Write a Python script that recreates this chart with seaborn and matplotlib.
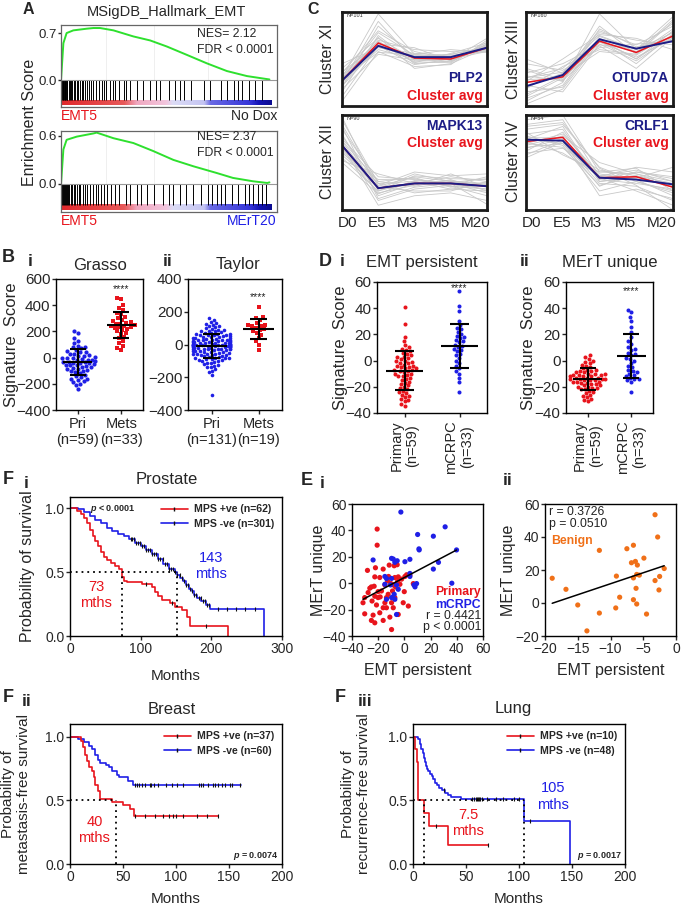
import numpy as np
import pandas as pd
import matplotlib
matplotlib.use("Agg")
import matplotlib.pyplot as plt
import seaborn as sns
from matplotlib.lines import Line2D
from matplotlib.colors import LinearSegmentedColormap

# ------------------------------------------------------------------ data
# A: GSEA running enrichment score (rank fraction, ES)
gsea1_x = [0, 0.011, 0.026, 0.057, 0.119, 0.150, 0.181, 0.243, 0.335, 0.413, 0.490, 0.583, 0.675, 0.768, 0.861, 0.954, 0.965]
gsea1_y = [0, 0.55, 0.70, 0.74, 0.765, 0.775, 0.775, 0.74, 0.65, 0.59, 0.50, 0.375, 0.25, 0.135, 0.06, 0.015, 0.01]
gsea2_x = [0, 0.011, 0.026, 0.073, 0.151, 0.165, 0.243, 0.335, 0.427, 0.520, 0.613, 0.720, 0.796, 0.889, 0.955, 0.965]
gsea2_y = [0, 0.43, 0.55, 0.59, 0.63, 0.64, 0.57, 0.51, 0.41, 0.30, 0.22, 0.137, 0.075, 0.033, 0.012, 0.02]
gsea1_hits = [0.002, 0.005, 0.008, 0.011, 0.014, 0.017, 0.02, 0.023, 0.026, 0.03, 0.035, 0.04, 0.046, 0.052,
              0.058, 0.065, 0.072, 0.08, 0.088, 0.095, 0.10, 0.11, 0.12, 0.13, 0.14, 0.15, 0.16, 0.175, 0.19,
              0.2, 0.21, 0.225, 0.24, 0.25, 0.27, 0.29, 0.3, 0.32, 0.35, 0.38, 0.41, 0.44, 0.46, 0.5, 0.53,
              0.55, 0.57, 0.6, 0.66, 0.69, 0.74, 0.77, 0.8, 0.82, 0.84, 0.87, 0.9, 0.93]
gsea2_hits = [0.002, 0.005, 0.009, 0.013, 0.017, 0.021, 0.026, 0.031, 0.037, 0.044, 0.05, 0.058, 0.066, 0.075,
              0.083, 0.09, 0.1, 0.11, 0.12, 0.135, 0.15, 0.16, 0.17, 0.185, 0.2, 0.215, 0.23, 0.25, 0.27,
              0.3, 0.32, 0.35, 0.37, 0.4, 0.43, 0.47, 0.5, 0.52, 0.55, 0.58, 0.61, 0.65, 0.68, 0.7, 0.72,
              0.74, 0.76, 0.79, 0.82, 0.85, 0.87, 0.89, 0.91, 0.93, 0.95]

# C: cluster time-course profiles (D0, E5, M3, M5, M20), normalised 0-1
timepoints = ["D0", "E5", "M3", "M5", "M20"]
c11_gray = [[0.30, 0.98, 0.55, 0.52, 0.60], [0.25, 0.90, 0.48, 0.50, 0.65], [0.20, 0.85, 0.52, 0.55, 0.62],
            [0.35, 0.80, 0.58, 0.50, 0.58], [0.15, 0.75, 0.45, 0.48, 0.66], [0.40, 0.72, 0.50, 0.55, 0.63],
            [0.28, 0.70, 0.60, 0.58, 0.60], [0.22, 0.68, 0.47, 0.46, 0.68], [0.32, 0.65, 0.53, 0.52, 0.62],
            [0.10, 0.64, 0.44, 0.50, 0.64], [0.45, 0.62, 0.56, 0.54, 0.58], [0.26, 0.60, 0.50, 0.47, 0.66],
            [0.05, 0.58, 0.42, 0.44, 0.70], [0.30, 0.57, 0.55, 0.60, 0.57], [0.18, 0.55, 0.49, 0.51, 0.61],
            [0.36, 0.66, 0.62, 0.48, 0.64], [0.24, 0.73, 0.40, 0.45, 0.62], [0.29, 0.78, 0.54, 0.53, 0.59],
            [0.33, 0.69, 0.46, 0.56, 0.67], [0.21, 0.63, 0.51, 0.49, 0.72]]
c11_avg = [0.27, 0.67, 0.51, 0.50, 0.62]
c11_gene = [0.27, 0.64, 0.52, 0.52, 0.62]
c13_gray = [[0.05, 0.25, 0.98, 0.60, 0.95], [0.10, 0.30, 0.85, 0.55, 0.90], [0.20, 0.35, 0.80, 0.65, 0.85],
            [0.30, 0.40, 0.75, 0.60, 0.78], [0.40, 0.28, 0.70, 0.50, 0.80], [0.35, 0.45, 0.65, 0.62, 0.70],
            [0.15, 0.20, 0.72, 0.58, 0.75], [0.25, 0.33, 0.68, 0.52, 0.72], [0.45, 0.38, 0.62, 0.66, 0.68],
            [0.22, 0.15, 0.66, 0.48, 0.74], [0.28, 0.30, 0.78, 0.70, 0.65], [0.18, 0.42, 0.60, 0.55, 0.82],
            [0.50, 0.35, 0.70, 0.45, 0.77], [0.08, 0.22, 0.74, 0.60, 0.88], [0.32, 0.27, 0.64, 0.40, 0.73],
            [0.26, 0.50, 0.76, 0.72, 0.60], [0.12, 0.32, 0.58, 0.54, 0.79], [0.38, 0.26, 0.82, 0.63, 0.70],
            [0.02, 0.18, 0.69, 0.57, 0.92], [0.30, 0.36, 0.71, 0.50, 0.76]]
c13_avg = [0.25, 0.31, 0.69, 0.57, 0.745]
c13_gene = [0.21, 0.33, 0.71, 0.61, 0.69]
c12_gray = [[0.98, 0.20, 0.30, 0.25, 0.22], [0.90, 0.25, 0.35, 0.30, 0.28], [0.85, 0.30, 0.25, 0.32, 0.20],
            [0.80, 0.15, 0.28, 0.35, 0.30], [0.75, 0.35, 0.32, 0.28, 0.18], [0.72, 0.22, 0.38, 0.30, 0.25],
            [0.70, 0.10, 0.22, 0.26, 0.35], [0.65, 0.28, 0.30, 0.22, 0.27], [0.62, 0.18, 0.26, 0.38, 0.24],
            [0.60, 0.32, 0.33, 0.25, 0.15], [0.58, 0.24, 0.20, 0.20, 0.30], [0.55, 0.20, 0.36, 0.33, 0.32],
            [0.52, 0.38, 0.28, 0.27, 0.22], [0.68, 0.05, 0.15, 0.18, 0.10], [0.78, 0.26, 0.40, 0.36, 0.38],
            [0.88, 0.12, 0.24, 0.28, 0.06], [0.64, 0.22, 0.27, 0.31, 0.26], [0.73, 0.30, 0.34, 0.24, 0.29],
            [0.95, 0.28, 0.18, 0.22, 0.20], [0.50, 0.17, 0.31, 0.29, 0.33]]
c12_avg = [0.68, 0.23, 0.28, 0.28, 0.25]
c12_gene = [0.68, 0.23, 0.28, 0.28, 0.25]
c14_gray = [[0.95, 1.00, 0.40, 0.38, 0.30], [0.90, 0.95, 0.35, 0.45, 0.40], [0.85, 0.90, 0.45, 0.30, 0.20],
            [0.80, 0.85, 0.30, 0.35, 0.25], [0.75, 0.70, 0.25, 0.40, 0.35], [0.70, 0.80, 0.38, 0.32, 0.15],
            [0.65, 0.75, 0.32, 0.28, 0.22], [0.60, 0.65, 0.42, 0.36, 0.28], [0.55, 0.72, 0.28, 0.25, 0.10],
            [0.72, 0.60, 0.36, 0.42, 0.30], [0.78, 0.68, 0.20, 0.30, 0.18], [0.68, 0.78, 0.50, 0.38, 0.26],
            [0.62, 0.82, 0.34, 0.20, 0.05], [0.74, 0.88, 0.30, 0.34, 0.45], [0.82, 0.58, 0.40, 0.44, 0.20],
            [0.58, 0.74, 0.15, 0.22, 0.12], [0.76, 0.76, 0.36, 0.33, 0.27], [0.66, 0.70, 0.33, 0.40, 0.33],
            [0.88, 0.92, 0.44, 0.26, 0.00], [0.70, 0.66, 0.26, 0.36, 0.24]]
c14_avg = [0.72, 0.765, 0.34, 0.35, 0.24]
c14_gene = [0.74, 0.73, 0.34, 0.32, 0.27]

# B: signature scores
grasso_pri = [200, 190, 150, 130, 110, 90, 80, 80, 70, 60, 50, 45, 40, 30, 25, 20, 15, 10, 5, 0,
              0, -5, -10, -15, -20, -20, -25, -30, -30, -35, -40, -40, -45, -50, -55, -60, -60, -65, -70, -75,
              -80, -85, -90, -95, -100, -105, -110, -120, -130, -140, -150, -160, -170, -180, -190, -200, -210,
              -160, -240]
grasso_mets = [455, 445, 400, 380, 360, 340, 330, 310, 300, 290, 280, 270, 265, 260, 255, 250, 245, 240, 235,
               230, 225, 220, 210, 200, 190, 180, 160, 150, 130, 110, 90, 70, 60]
taylor_pri = [160, 150, 140, 130, 125, 120, 115, 110, 105, 100, 95, 90, 90, 85, 80, 80, 75, 70, 70, 65,
              65, 60, 60, 55, 55, 50, 50, 45, 45, 40, 40, 40, 35, 35, 30, 30, 30, 25, 25, 20,
              20, 20, 15, 15, 15, 10, 10, 10, 5, 5, 5, 0, 0, 0, 0, -5, -5, -5, -10, -10,
              -10, -10, -15, -15, -15, -20, -20, -20, -25, -25, -25, -30, -30, -30, -35, -35, -40, -40, -40, -45,
              -45, -50, -50, -55, -55, -60, -60, -65, -65, -70, -70, -75, -75, -80, -80, -85, -85, -90, -90, -95,
              -95, -100, -100, -105, -110, -115, -120, -125, -130, -135, -140, -150, -160, -170, -185, -310, 12, -2,
              8, -8, 3, -3, 28, -28, 48, -48, 62, -62, 18, -18, -12]
taylor_mets = [230, 165, 160, 150, 130, 120, 120, 115, 110, 100, 95, 90, 80, 70, 60, 40, 20, 0, -35]

# D: signature scores
emtp_primary = [41, 28, 18, 15, 12, 10, 9, 8, 7, 6, 5, 4, 3, 3, 2, 1, 0, 0, -1, -2,
                -2, -3, -4, -4, -5, -5, -6, -7, -7, -8, -8, -9, -10, -10, -11, -12, -12, -13, -14, -15,
                -16, -17, -18, -19, -20, -21, -22, -23, -24, -25, -26, -27, -28, -29, -30, -31, -33, -35, -6]
emtp_mcrpc = [53, 42, 38, 30, 27, 25, 24, 22, 20, 19, 18, 17, 16, 15, 14, 12, 11, 10, 9, 8,
              7, 5, 4, 2, 0, -2, -4, -6, -8, -10, -13, -16, -24]
mert_primary = [4, 3, 1, 0, -1, -2, -3, -4, -5, -6, -7, -7, -8, -8, -9, -9, -10, -10, -10, -11,
                -11, -11, -12, -12, -12, -13, -13, -13, -14, -14, -14, -15, -15, -15, -16, -16, -16, -17, -17, -18,
                -18, -19, -19, -20, -20, -21, -21, -22, -22, -23, -24, -25, -26, -27, -28, -29, -30, -31, -14]
mert_mcrpc = [39, 37, 33, 30, 26, 22, 18, 15, 13, 10, 9, 8, 6, 5, 4, 2, 1, 0, -2, -4,
              -5, -7, -8, -9, -10, -11, -12, -13, -14, -14, -15, -16, -24]

# E: EMT persistent vs MErT unique
ei_pri_x = [-20.8, -20.8, -28.2, -22.1, -16.2, -11.6, -7.8, -5.5, -22.6, -18.8, -12.1, -7.3, -4.7, 0.4, 1.7,
            -26.4, -25.2, -23.1, -14.9, -10.3, -8.5, -6.8, -3.4, -0.1, -9.1, -12.4, -20.1, -22.6, -18.5, -13.7,
            -31.6, -24.7, -21.3, -14.9, -7.3, -0.9, -9.8, -30.3, -23.9, -18.8, -11.1, -25.2, -22.6, -16.2, -4.7,
            3.0, -9.8, 6.8, -17.5, -27.7, -20.1, -12.9, -5.2, -2.1, 4.2, -30.3, -13.7, -8.5, -16.2]
ei_pri_y = [41.0, 28.8, 9.7, 11.7, 10.7, 13.7, 13.2, 14.0, 4.8, 4.3, 5.1, 4.3, 4.8, 5.1, 6.4,
            -3.8, -2.8, -2.3, -1.3, -0.3, -1.3, -2.8, -0.8, -6.4, -5.9, -8.4, -10.9, -9.9, -10.4, -10.9,
            -14.8, -13.5, -16.5, -14.8, -10.9, -14.8, -14.8, -23.2, -24.2, -22.4, -25.7, -28.2, -30.0, -28.2, -23.7,
            -17.3, -35.1, -0.3, -5.9, -7.1, -6.4, 1.8, 1.3, 3.1, 6.1, -10.9, -18.6, -18.6, -18.6]
ei_mc_x = [-2.7, 10.1, 22.1, 31.1, 11.1, 11.3, 39.8, -23.9, -9.8, -8.5, -5.5, 0.4, 4.2, -7.3, 26.0, 22.1, 36.2,
           4.2, 4.2, -14.9, -13.7, -9.8, -14.9, -10.6, -6.0, 7.3, 9.3, 8.1, -4.7, -7.8, -9.8, -13.7, -7.3, -6.0]
ei_mc_y = [53.9, 36.9, 35.6, 42.7, 26.0, 25.2, 25.2, 17.6, 18.8, 18.3, 17.0, 16.3, 18.1, 15.8, 15.8, 10.7, 0.0,
           7.4, 5.1, 5.1, 3.6, 3.6, -0.8, -1.3, -1.3, -1.3, -0.3, -2.8, -4.6, -8.4, -10.9, -12.2, -12.2, -23.7]
eii_x = [-18.9, -16.8, -15.0, -13.6, -11.7, -11.7, -9.2, -9.1, -8.6, -7.5, -6.8, -6.5, -6.5, -6.5, -6.2, -6.1,
         -6.0, -5.9, -5.6, -6.0, -4.9, -4.5, -3.2, -3.2, -2.8, -2.5, -2.6, -1.8]
eii_y = [15.0, 8.3, -1.2, -16.9, 31.9, -6.1, -3.0, 16.3, 3.5, 32.9, 24.4, 35.0, 15.2, 2.0, 25.2, 8.9,
         -0.6, 23.0, 16.9, 17.3, 27.2, -6.7, 53.5, 13.6, 40.0, 16.1, 7.9, 20.9]

# F: Kaplan-Meier curves (months, survival) and censor times
pro_pos_t = [0, 10, 16, 20, 24, 28, 32, 36, 40, 44, 48, 52, 58, 64, 70, 73, 76, 80, 102, 116,
             120, 124, 130, 142, 148, 158, 165, 170, 224]
pro_pos_s = [1.0, 0.98, 0.95, 0.92, 0.88, 0.83, 0.78, 0.74, 0.70, 0.66, 0.62, 0.59, 0.57, 0.55, 0.52, 0.46,
             0.43, 0.42, 0.41, 0.38, 0.34, 0.31, 0.28, 0.26, 0.23, 0.20, 0.15, 0.08, 0.0]
pro_pos_c = [107, 144, 192]
pro_neg_t = [0, 12, 20, 28, 36, 44, 52, 60, 68, 76, 84, 92, 100, 108, 116, 124, 132, 140, 148, 152,
             156, 160, 164, 168, 172, 176, 180, 186, 192, 198, 274]
pro_neg_s = [1.0, 0.99, 0.97, 0.94, 0.91, 0.88, 0.84, 0.82, 0.80, 0.78, 0.76, 0.73, 0.70, 0.67, 0.64, 0.60,
             0.56, 0.52, 0.50, 0.48, 0.45, 0.43, 0.40, 0.37, 0.35, 0.32, 0.30, 0.27, 0.24, 0.21, 0.0]
pro_neg_c = [86, 88, 90, 93, 96, 99, 102, 105, 108, 110, 113, 116, 119, 122, 125, 128, 131, 134, 137, 140,
             143, 146, 149, 152, 155, 158, 161, 164, 167, 170, 173, 176, 179, 182, 185, 188, 191, 194, 197,
             210, 222, 235, 248, 262]
br_pos_t = [0, 10, 12, 14, 16, 18, 21, 23, 24, 26, 28, 40, 50, 57, 60, 140]
br_pos_s = [1.0, 0.97, 0.92, 0.86, 0.81, 0.76, 0.73, 0.68, 0.62, 0.57, 0.51, 0.49, 0.46, 0.43, 0.38, 0.38]
br_pos_c = [61, 70.5, 80, 88, 93, 97, 100, 107, 120, 129, 140]
br_neg_t = [0, 8, 13, 18, 21, 24, 26, 28, 34, 37, 40, 44, 46, 55, 59, 161]
br_neg_s = [1.0, 0.98, 0.96, 0.93, 0.90, 0.86, 0.82, 0.79, 0.78, 0.76, 0.73, 0.70, 0.68, 0.65, 0.62, 0.62]
br_neg_c = [61, 63, 65, 67.6, 70.5, 75, 76.6, 79, 83.4, 91, 96, 100.5, 107, 121.6, 124, 125.6, 130.4, 135,
            136.8, 140, 143, 146, 151, 153, 160.5]
lu_pos_t = [0, 2, 3.5, 4.5, 5, 10, 15, 33, 71]
lu_pos_s = [1.0, 0.9, 0.8, 0.6, 0.5, 0.4, 0.3, 0.15, 0.15]
lu_pos_c = [22, 71]
lu_neg_t = [0, 5, 7, 8, 9, 10, 11, 12, 13, 14, 16, 18, 19, 21, 23, 25, 27, 30, 33, 36, 45, 105, 148]
lu_neg_s = [1.0, 0.98, 0.94, 0.9, 0.87, 0.83, 0.8, 0.77, 0.75, 0.73, 0.71, 0.69, 0.67, 0.64, 0.62, 0.6,
            0.58, 0.56, 0.54, 0.53, 0.51, 0.34, 0.0]
lu_neg_c = [29, 56, 58, 59, 60, 61, 62, 63, 65, 70, 78, 85, 95, 100, 110]

# ------------------------------------------------------------------ style
sns.set_theme(style="ticks")
plt.rcParams["font.family"] = ["Liberation Sans", "DejaVu Sans"]
plt.rcParams["mathtext.fontset"] = "custom"
plt.rcParams["mathtext.it"] = "Liberation Sans:italic:bold"
plt.rcParams["mathtext.rm"] = "Liberation Sans:bold"
plt.rcParams["axes.linewidth"] = 1.0
plt.rcParams["xtick.major.width"] = 1.0
plt.rcParams["ytick.major.width"] = 1.0
plt.rcParams["xtick.major.size"] = 3
plt.rcParams["ytick.major.size"] = 3

RED = "#e8141c"
BLUE = "#1f1fe6"
NAVY = "#1c1c86"
GREEN = "#2ee02e"
ORANGE = "#f07018"

W, H = 685, 908
fig = plt.figure(figsize=(W / 100, H / 100), dpi=100)
RECTS = {}


def ax_px(x0, y0, x1, y1):
    ax = fig.add_axes([x0 / W, 1 - y1 / H, (x1 - x0) / W, (y1 - y0) / H])
    RECTS[id(ax)] = (x0, y0, x1, y1)
    return ax


def txt(x, y, s, **kw):
    kw.setdefault("ha", "center")
    kw.setdefault("va", "center")
    fig.text(x / W, 1 - y / H, s, **kw)


def ylab(ax, s, xpx, **kw):
    x0, y0, x1, y1 = RECTS[id(ax)]
    ax.set_ylabel(s, **kw)
    ax.yaxis.label.set_verticalalignment("center")
    ax.yaxis.set_label_coords((xpx - x0) / (x1 - x0), 0.5)


def xlab(ax, s, ypx, **kw):
    x0, y0, x1, y1 = RECTS[id(ax)]
    ax.set_xlabel(s, **kw)
    ax.xaxis.label.set_verticalalignment("center")
    ax.xaxis.set_label_coords(0.5, (y1 - ypx) / (y1 - y0))


def box(ax, lw=1.0, color="black"):
    for sp in ax.spines.values():
        sp.set_visible(True)
        sp.set_linewidth(lw)
        sp.set_color(color)


# ------------------------------------------------------------------ A: GSEA
ES_CMAP = LinearSegmentedColormap.from_list(
    "es", [(0, "#e0282c"), (0.3, "#e85a5a"), (0.36, "#f0a8c0"), (0.5, "#f2c6de"), (0.53, "#dcdcf6"),
           (0.68, "#c4c4f2"), (0.71, "#6a6ae4"), (0.9, "#3434d8"), (0.94, "#1414b4"), (1, "#0c0c90")])


def gsea_panel(rect, cx, cy, hits, ytick, ylim, hit_lo, bar_lo):
    ax = ax_px(*rect)
    for gx in [0.21, 0.43, 0.68]:
        ax.plot([gx, gx], [0, ylim[1]], color="#ececec", lw=0.6, zorder=0)
    ax.vlines(hits, hit_lo, 0, color="black", lw=0.7)
    ax.imshow(np.linspace(0, 1, 256)[None, :], extent=[0, 0.975, bar_lo, hit_lo], aspect="auto",
              cmap=ES_CMAP, zorder=1)
    sns.lineplot(x=cx, y=cy, ax=ax, color=GREEN, lw=1.4, sort=False)
    ax.axhline(0, color="#999999", lw=0.8)
    ax.set_xlim(0, 1)
    ax.set_ylim(*ylim)
    ax.set_xticks([])
    ax.set_yticks([0, ytick])
    ax.set_yticklabels(["0.0", str(ytick)])
    ax.tick_params(axis="y", length=2, pad=1, labelsize=9.5)
    box(ax, 0.9, "#666666")
    return ax


gsea_panel((61, 25, 277, 107), gsea1_x, gsea1_y, gsea1_hits, 0.7, (-0.40, 0.82), -0.30, -0.37)
gsea_panel((61, 131, 277, 212), gsea2_x, gsea2_y, gsea2_hits, 0.6, (-0.35, 0.66), -0.26, -0.325)
txt(28, 10, "A", fontsize=11.5, fontweight="bold")
txt(166, 12, "MSigDB_Hallmark_EMT", fontsize=10.5)
txt(29, 122, "Enrichment Score", fontsize=11.5, rotation=90)
txt(197, 34, "NES= 2.12", fontsize=8.8, ha="left")
txt(197, 50, "FDR < 0.0001", fontsize=8.8, ha="left")
txt(197, 137, "NES= 2.37", fontsize=8.8, ha="left")
txt(197, 153, "FDR < 0.0001", fontsize=8.8, ha="left")
txt(61, 116, "EMT5", fontsize=10, color=RED, ha="left")
txt(277, 116, "No Dox", fontsize=10, ha="right")
txt(61, 221, "EMT5", fontsize=10, color=RED, ha="left")
txt(277, 221, "MErT20", fontsize=10, color=BLUE, ha="right")

# ------------------------------------------------------------------ C: clusters
TICKPOS = [0.14, 0.97, 1.79, 2.70, 3.70]


def cluster_panel(rect, gray, avg, gene, gname, n, top_text, bottom_row):
    ax = ax_px(*rect)
    rows = [(g, t, v) for g, line in enumerate(gray) for t, v in enumerate(line)]
    df = pd.DataFrame(rows, columns=["gene", "t", "v"])
    sns.lineplot(data=df, x="t", y="v", units="gene", estimator=None, color="#c8c8c8", lw=0.6, ax=ax)
    sns.lineplot(x=list(range(5)), y=avg, color=RED, lw=1.1, ax=ax)
    sns.lineplot(x=list(range(5)), y=gene, color=NAVY, lw=1.4, ax=ax)
    ax.set_xlim(0, 4)
    ax.set_ylim(0, 1)
    ax.set_yticks([])
    ax.set_xlabel("")
    ax.set_ylabel("")
    if bottom_row:
        ax.set_xticks(TICKPOS)
        ax.set_xticklabels(timepoints, fontsize=11)
        ax.tick_params(axis="x", length=0, pad=4)
    else:
        ax.set_xticks([])
    box(ax, 2.0, "#1a1a1a")
    ax.text(0.03, 0.985, f"N={n}", transform=ax.transAxes, fontsize=4, va="top", ha="left", color="#333")
    if top_text:
        ya, yb = 0.88, 0.70
    else:
        ya, yb = 0.30, 0.11
    ax.text(0.97, ya, gname, transform=ax.transAxes, fontsize=10, fontweight="bold", color=NAVY,
            ha="right", va="center")
    ax.text(0.97, yb, "Cluster avg", transform=ax.transAxes, fontsize=10, fontweight="bold", color=RED,
            ha="right", va="center")
    return ax


cluster_panel((342, 12, 487, 106), c11_gray, c11_avg, c11_gene, "PLP2", 101, False, False)
cluster_panel((526, 12, 673, 106), c13_gray, c13_avg, c13_gene, "OTUD7A", 160, False, False)
cluster_panel((342, 115, 487, 210), c12_gray, c12_avg, c12_gene, "MAPK13", 90, True, True)
cluster_panel((526, 115, 673, 210), c14_gray, c14_avg, c14_gene, "CRLF1", 54, True, True)
txt(313, 10, "C", fontsize=11.5, fontweight="bold")
txt(327, 59, "Cluster XI", fontsize=11.5, rotation=90)
txt(513, 59, "Cluster XIII", fontsize=11.5, rotation=90)
txt(327, 162, "Cluster XII", fontsize=11.5, rotation=90)
txt(513, 162, "Cluster XIV", fontsize=11.5, rotation=90)


# ------------------------------------------------------------------ B & D: dot plots
def dot_panel(rect, a, b, ca, cb, labels, ylim, yticks, star_y, size, rot=0, fs=10, markers=("o", "o")):
    ax = ax_px(*rect)
    df = pd.DataFrame({"g": [labels[0]] * len(a) + [labels[1]] * len(b), "v": list(a) + list(b)})
    sns.swarmplot(data=df[df.g == labels[0]], x="g", y="v", order=labels, color=ca, size=size[0], ax=ax,
                  marker=markers[0], linewidth=0)
    sns.swarmplot(data=df[df.g == labels[1]], x="g", y="v", order=labels, color=cb, size=size[1], ax=ax,
                  marker=markers[1], linewidth=0)
    for i, vals in enumerate([a, b]):
        m = np.mean(vals)
        s = np.std(vals, ddof=1)
        ax.hlines(m, i - 0.33, i + 0.33, color="black", lw=1.5, zorder=5)
        ax.vlines(i, m - s, m + s, color="black", lw=1.5, zorder=5)
        ax.hlines([m - s, m + s], i - 0.18, i + 0.18, color="black", lw=1.5, zorder=5)
    ax.text(1, star_y, "****", ha="center", va="center", fontsize=7.5, color="#222")
    ax.set_xlim(-0.5, 1.5)
    ax.set_ylim(*ylim)
    ax.set_yticks(yticks)
    ax.set_xlabel("")
    ax.set_ylabel("")
    ax.set_xticks([0, 1])
    if rot:
        ax.set_xticklabels(labels, rotation=90, fontsize=fs, ha="center", va="top", multialignment="center")
    else:
        ax.set_xticklabels(labels, fontsize=fs, multialignment="center")
    ax.tick_params(axis="y", labelsize=11, pad=1)
    ax.tick_params(axis="x", pad=2)
    box(ax, 1.0)
    return ax


axBi = dot_panel((56, 279, 143, 410), grasso_pri, grasso_mets, BLUE, RED, ["Pri\n(n=59)", "Mets\n(n=33)"],
                 (-400, 600), [-400, -200, 0, 200, 400, 600], 524, (3.0, 3.0), fs=10.5, markers=("o", "s"))
axBii = dot_panel((188, 279, 282, 410), taylor_pri, taylor_mets, BLUE, RED, ["Pri\n(n=131)", "Mets\n(n=19)"],
                  (-400, 400), [-400, -200, 0, 200, 400], 290, (2.6, 3.0), fs=10.5, markers=("o", "s"))
ylab(axBi, "Signature  Score", 12, fontsize=12)
txt(8, 258, "B", fontsize=13, fontweight="bold")
txt(30, 261, "i", fontsize=12.5, fontweight="bold")
txt(100, 265, "Grasso", fontsize=12)
txt(168, 261, "ii", fontsize=12.5, fontweight="bold")
txt(238, 265, "Taylor", fontsize=12)

axDi = dot_panel((377, 282, 487, 413), emtp_primary, emtp_mcrpc, RED, BLUE, ["Primary\n(n=59)", "mCRPC\n(n=33)"],
                 (-40, 60), [-40, -20, 0, 20, 40, 60], 55, (2.9, 2.9), rot=90, fs=10.5)
axDii = dot_panel((566, 282, 653, 413), mert_primary, mert_mcrpc, RED, BLUE, ["Primary\n(n=59)", "mCRPC\n(n=33)"],
                  (-40, 60), [-40, -20, 0, 20, 40, 60], 53, (2.9, 2.9), rot=90, fs=10.5)
ylab(axDi, "Signature  Score", 340, fontsize=12)
ylab(axDii, "Signature  Score", 528, fontsize=12)
txt(325, 262, "D", fontsize=13, fontweight="bold")
txt(342, 262, "i", fontsize=12.5, fontweight="bold")
txt(422, 263, "EMT persistent", fontsize=12)
txt(525, 262, "ii", fontsize=12.5, fontweight="bold")
txt(610, 263, "MErT unique", fontsize=12)

# ------------------------------------------------------------------ E: scatter
axEi = ax_px(352, 504, 483, 636)
sns.scatterplot(x=ei_pri_x, y=ei_pri_y, color=RED, s=14, edgecolor="none", ax=axEi)
sns.scatterplot(x=ei_mc_x, y=ei_mc_y, color=BLUE, s=14, edgecolor="none", ax=axEi)
sns.regplot(x=np.array(ei_pri_x + ei_mc_x), y=np.array(ei_pri_y + ei_mc_y), scatter=False, ci=None,
            truncate=True, line_kws=dict(color="black", lw=1.1), ax=axEi)
axEi.set_xlim(-40, 60)
axEi.set_ylim(-40, 60)
axEi.set_xticks([-40, -20, 0, 20, 40, 60])
axEi.set_yticks([-40, -20, 0, 20, 40, 60])
axEi.tick_params(labelsize=10, pad=1)
box(axEi)
xlab(axEi, "EMT persistent", 670, fontsize=11.5)
ylab(axEi, "MErT unique", 318, fontsize=11.5)
axEi.text(0.985, 0.33, "Primary", transform=axEi.transAxes, color=RED, fontsize=8.8, fontweight="bold",
          ha="right", va="center")
axEi.text(0.985, 0.235, "mCRPC", transform=axEi.transAxes, color=BLUE, fontsize=8.8, fontweight="bold",
          ha="right", va="center")
axEi.text(0.985, 0.15, "r = 0.4421", transform=axEi.transAxes, fontsize=8.8, ha="right", va="center", color="#222")
axEi.text(0.985, 0.07, "p < 0.0001", transform=axEi.transAxes, fontsize=8.8, ha="right", va="center", color="#222")

axEii = ax_px(545, 504, 676, 636)
sns.scatterplot(x=eii_x, y=eii_y, color=ORANGE, s=14, edgecolor="none", ax=axEii)
sns.regplot(x=np.array(eii_x), y=np.array(eii_y), scatter=False, ci=None, truncate=True,
            line_kws=dict(color="black", lw=1.1), ax=axEii)
axEii.set_xlim(-20, 0)
axEii.set_ylim(-20, 60)
axEii.set_xticks([-20, -15, -10, -5, 0])
axEii.set_yticks([-20, 0, 20, 40, 60])
axEii.tick_params(labelsize=10, pad=1)
box(axEii)
xlab(axEii, "EMT persistent", 670, fontsize=11.5)
ylab(axEii, "MErT unique", 508, fontsize=11.5)
axEii.text(0.03, 0.94, "r = 0.3726", transform=axEii.transAxes, fontsize=8.8, ha="left", va="center", color="#222")
axEii.text(0.03, 0.85, "p = 0.0510", transform=axEii.transAxes, fontsize=8.8, ha="left", va="center", color="#222")
axEii.text(0.05, 0.72, "Benign", transform=axEii.transAxes, fontsize=8.8, fontweight="bold", color=ORANGE,
           ha="left", va="center")
txt(307, 481, "E", fontsize=13, fontweight="bold")
txt(322, 483, "i", fontsize=12.5, fontweight="bold")
txt(508, 481, "ii", fontsize=12.5, fontweight="bold")


# ------------------------------------------------------------------ F: Kaplan-Meier
def km_line(ax, t, s, cens, color):
    sns.lineplot(x=t, y=s, drawstyle="steps-post", estimator=None, color=color, lw=1.2, ax=ax, sort=False)
    idx = np.searchsorted(np.array(t), np.array(cens), side="right") - 1
    ax.plot(cens, np.array(s)[idx], linestyle="none", marker="|", color="#111", ms=3.5, mew=0.8)


def km_panel(rect, pos, neg, npos, nneg, xmax, xticks, ylim_top, legend_loc="upper right"):
    ax = ax_px(*rect)
    km_line(ax, *neg, BLUE)
    km_line(ax, *pos, RED)
    ax.set_xlim(0, xmax)
    ax.set_ylim(0, ylim_top)
    ax.set_xticks(xticks)
    ax.set_yticks([0, 0.5, 1.0])
    ax.set_yticklabels(["0.0", "0.5", "1.0"])
    ax.tick_params(labelsize=10, pad=1)
    box(ax)
    handles = [Line2D([], [], color=RED, lw=1.2, marker="|", ms=3.5, mec="#111"),
               Line2D([], [], color=BLUE, lw=1.2, marker="|", ms=3.5, mec="#111")]
    ax.legend(handles, [f"MPS +ve (n={npos})", f"MPS -ve (n={nneg})"], loc=legend_loc, frameon=False,
              prop=dict(weight="bold", size=7.6), handlelength=2.6, borderaxespad=0.3, labelspacing=0.45,
              handletextpad=0.6)
    ax.set_xlabel("")
    ax.set_ylabel("")
    return ax


DOT = dict(color="black", lw=1.3, linestyle=(0, (1, 2.2)))

axFi = km_panel((70, 497, 282, 636), (pro_pos_t, pro_pos_s, pro_pos_c), (pro_neg_t, pro_neg_s, pro_neg_c),
                62, 301, 300, [0, 100, 200, 300], 1.086)
axFi.plot([0, 152], [0.5, 0.5], **DOT)
axFi.plot([73, 73], [0, 0.5], **DOT)
axFi.plot([152, 152], [0, 0.5], **DOT)
axFi.text(60, 0.995, r"$p$ < 0.0001", fontsize=6.5, fontweight="bold", ha="center", va="center")
axFi.text(199, 0.55, "143\nmths", color=BLUE, fontsize=10.5, ha="center", va="center", linespacing=1.2)
axFi.text(37, 0.32, "73\nmths", color=RED, fontsize=10.5, ha="center", va="center", linespacing=1.2)
xlab(axFi, "Months", 676, fontsize=11)
ylab(axFi, "Probability of survival", 28, fontsize=11.5)
txt(8, 480, "F", fontsize=13, fontweight="bold")
txt(26, 483, "i", fontsize=12.5, fontweight="bold")
txt(167, 480, "Prostate", fontsize=12)

axFii = km_panel((70, 724, 282, 864), (br_pos_t, br_pos_s, br_pos_c), (br_neg_t, br_neg_s, br_neg_c),
                 37, 60, 200, [0, 50, 100, 150, 200], 1.10)
axFii.plot([0, 43], [0.5, 0.5], **DOT)
axFii.plot([43, 43], [0, 0.5], **DOT)
axFii.text(23, 0.27, "40\nmths", color=RED, fontsize=10.5, ha="center", va="center", linespacing=1.2)
axFii.text(0.985, 0.06, r"$p$ = 0.0074", transform=axFii.transAxes, fontsize=6.5, fontweight="bold",
           ha="right", va="center")
xlab(axFii, "Months", 899, fontsize=11)
ylab(axFii, "Probability of\nmetastasis-free survival", 16, fontsize=11)
txt(8, 698, "F", fontsize=13, fontweight="bold")
txt(27, 701, "ii", fontsize=12.5, fontweight="bold")
txt(172, 709, "Breast", fontsize=12)

axFiii = km_panel((413, 724, 625, 864), (lu_pos_t, lu_pos_s, lu_pos_c), (lu_neg_t, lu_neg_s, lu_neg_c),
                  10, 48, 200, [0, 50, 100, 150, 200], 1.10)
axFiii.plot([0, 105], [0.5, 0.5], **DOT)
axFiii.plot([10, 10], [0, 0.5], **DOT)
axFiii.plot([105, 105], [0, 0.5], **DOT)
axFiii.text(132, 0.53, "105\nmths", color=BLUE, fontsize=10.5, ha="center", va="center", linespacing=1.2)
axFiii.text(52, 0.32, "7.5\nmths", color=RED, fontsize=10.5, ha="center", va="center", linespacing=1.2)
axFiii.text(0.985, 0.06, r"$p$ = 0.0017", transform=axFiii.transAxes, fontsize=6.5, fontweight="bold",
            ha="right", va="center")
xlab(axFiii, "Months", 899, fontsize=11)
ylab(axFiii, "Probability of\nrecurrence-free survival", 356, fontsize=11)
txt(340, 698, "F", fontsize=13, fontweight="bold")
txt(365, 701, "iii", fontsize=12.5, fontweight="bold")
txt(513, 709, "Lung", fontsize=12)

fig.savefig("out.png", dpi=100)
